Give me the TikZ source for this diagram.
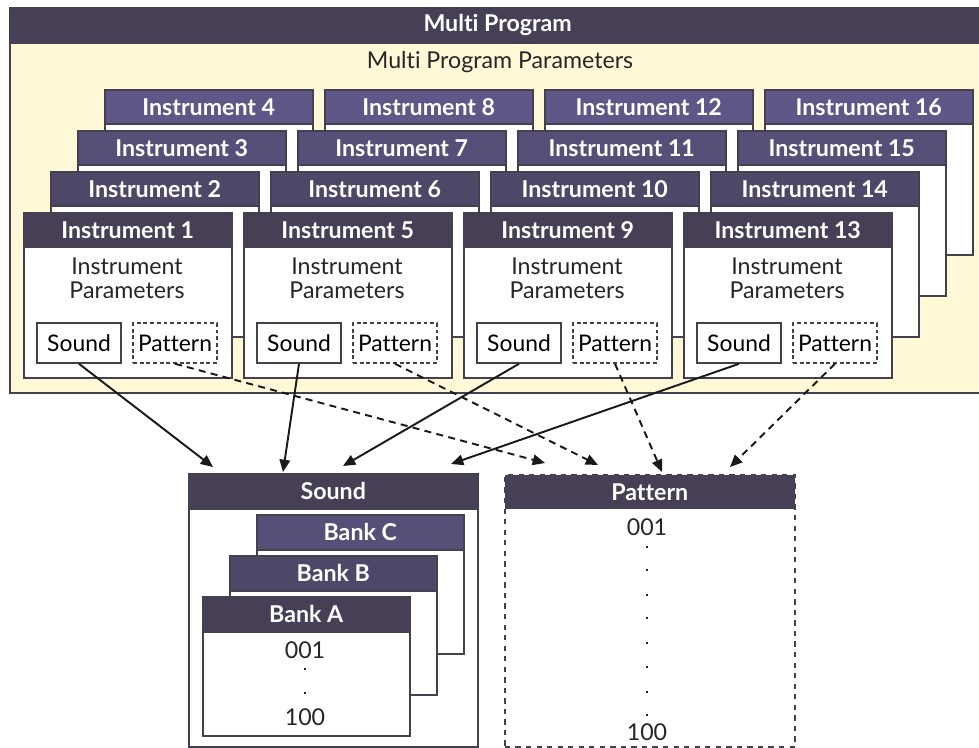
\documentclass[tikz,border=0pt]{standalone}
\usepackage{fontspec}
\setmainfont{Lato}[Ligatures={NoCommon}]
\usetikzlibrary{positioning,arrows.meta,calc}
\definecolor{hdone}{HTML}{463F55}
\definecolor{hdtwo}{HTML}{4E4767}
\definecolor{hdthree}{HTML}{564F78}
\definecolor{hdfour}{HTML}{5E5787}
\definecolor{paper}{HTML}{FFF9D8}
\definecolor{rim}{HTML}{45404F}
\tikzset{
  cardbox/.style={draw=rim, line width=0.9pt, fill=white, anchor=north west, inner sep=0pt,
    minimum width=4.16cm, minimum height=3.3cm},
  cardhead/.style={anchor=north west, inner sep=0pt, line width=0.9pt, minimum width=4.16cm,
    minimum height=0.68cm, text=white, font=\bfseries\fontsize{13.2}{15}\selectfont},
  banktxt/.style={font=\fontsize{13.2}{13.6}\selectfont, text=black!85, align=center},
  subbox/.style={draw=rim, line width=0.9pt, fill=white, inner sep=0pt, minimum width=1.68cm,
    minimum height=0.8cm, font=\fontsize{13}{15}\selectfont},
  dotmark/.style={rectangle, fill=black!85, inner sep=0pt, minimum size=1.5pt},
  flow/.style={-{Triangle[length=7pt,width=6pt]}, line width=1.1pt, black!90},
}
\begin{document}
\begin{tikzpicture}[x=0.02cm, y=-0.02cm]
  \useasboundingbox (0,0) rectangle (979,747);
  % multi program frame
  \node[draw=rim, line width=1.3pt, fill=paper, anchor=north west, inner sep=0pt,
    minimum width=19.52cm, minimum height=7.7cm] (multi) at (9,7) {};
  \node[cardhead, fill=hdone, draw=rim, minimum width=19.52cm, minimum height=0.7cm]
    (multihead) at (multi.north west) {Multi Program};
  \node[banktxt] (multipar) at (500,62) {Multi Program Parameters};
  % instrument cards, back to front
  \foreach \lay/\hc in {4/hdfour,3/hdthree,2/hdtwo,1/hdone}{
    \foreach \col in {0,...,3}{
      \pgfmathtruncatemacro\num{4*\col+\lay}
      \pgfmathsetmacro\cx{23+220*\col+27*(\lay-1)}
      \pgfmathsetmacro\cy{212-41*(\lay-1)}
      \node[cardbox] (card\num) at (\cx,\cy) {};
      \node[cardhead, fill=\hc, draw=rim] (head\num) at (card\num.north west) {Instrument \num};
    }
  }
  \foreach \col in {0,...,3}{
    \pgfmathtruncatemacro\num{4*\col+1}
    \pgfmathsetmacro\cx{23+220*\col}
    \node[banktxt, inner sep=0pt] (par\num) at (\cx+104,278) {Instrument\\Parameters};
    \node[subbox] (snd\num) at (\cx+56,343) {Sound};
    \node[subbox, dash pattern=on 2.2pt off 1.6pt] (pat\num) at (\cx+152,343) {Pattern};
  }
  % sound store
  \node[cardbox, line width=1pt, minimum width=5.78cm, minimum height=5.46cm] (sound) at (188,473) {};
  \node[cardhead, fill=hdone, draw=rim, minimum width=5.78cm, minimum height=0.7cm]
    (soundhead) at (sound.north west) {Sound};
  \foreach \bk/\k/\hc in {C/2/hdthree,B/1/hdtwo,A/0/hdone}{
    \node[cardbox, minimum width=4.14cm, minimum height=2.78cm] (bank\bk) at (202+27*\k,596-41*\k) {};
    \node[cardhead, fill=\hc, draw=rim, minimum width=4.14cm, minimum height=0.7cm]
      (bankhead\bk) at (bank\bk.north west) {Bank \bk};
  }
  \node[banktxt] (bankfirst) at (305,650) {001};
  \node[dotmark] (bankdot1) at (305,669) {};
  \node[dotmark] (bankdot2) at (305,693) {};
  \node[banktxt] (banklast) at (305,717) {100};
  % pattern store
  \node[cardbox, line width=1pt, dashed, minimum width=5.8cm, minimum height=5.44cm] (pattern) at (504,474) {};
  \node[cardhead, fill=hdone, minimum width=5.8cm, minimum height=0.68cm]
    (patternhead) at (pattern.north west) {Pattern};
  \node[banktxt] (patfirst) at (647,527) {001};
  \foreach \dy [count=\i] in {547,570,595,618,643,667,692,715}
    \node[dotmark] (patdot\i) at (647,\dy) {};
  \node[banktxt] (patlast) at (647,732) {100};
  % arrow ends
  \coordinate (sa1) at (213,467);
  \coordinate (sa5) at (283,472);
  \coordinate (sa9) at (343,466);
  \coordinate (sa13) at (451,464);
  \coordinate (pa1) at (545,463);
  \coordinate (pa5) at (598,465);
  \coordinate (pa9) at (662,472);
  \coordinate (pa13) at (730,467);
  \foreach \num in {1,5,9,13}{
    \draw[flow] (snd\num.south) -- (sa\num);
    \draw[flow, dash pattern=on 4pt off 3pt] (pat\num.south) -- (pa\num);
  }
\end{tikzpicture}
\end{document}
